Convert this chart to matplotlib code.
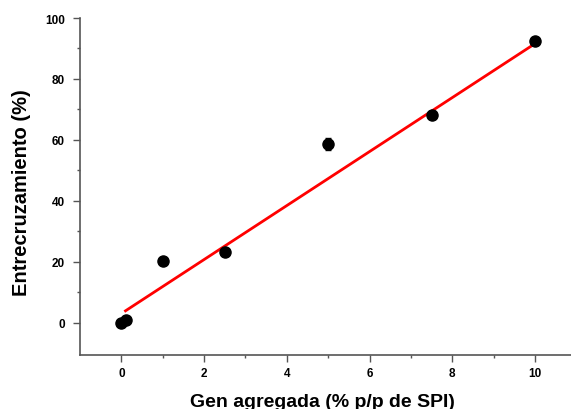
import matplotlib
matplotlib.use("Agg")
import matplotlib.pyplot as plt
import numpy as np

# Data
gen_pct = [0.0, 0.1, 1.0, 2.5, 5.0, 7.5, 10.0]
crosslink = [0.0, 1.0, 20.3, 23.3, 58.8, 68.2, 92.4]
crosslink_err = [0.5, 0.5, 0.8, 0.6, 2.0, 0.8, 0.8]
fit_slope = 8.85
fit_intercept = 3.1
fit_range = [0.1, 10.0]

x_ticks = [0, 2, 4, 6, 8, 10]
y_ticks = [0, 20, 40, 60, 80, 100]

plt.rcParams['font.family'] = ['Liberation Sans', 'DejaVu Sans']

fig = plt.figure(figsize=(5.71, 4.10), dpi=100)
ax = fig.add_axes([80/571, (410-355.7)/410, 1 - 80/571, (355.7-19)/410])

fx = np.linspace(fit_range[0], fit_range[1], 50)
ax.plot(fx, fit_slope * fx + fit_intercept, color='#ff0000', lw=2.0, zorder=2)
ax.errorbar(gen_pct, crosslink, yerr=crosslink_err, fmt='o', color='black',
            ms=8, capsize=2.5, elinewidth=1, capthick=1, zorder=3)

ax.set_xlim(-1, 10.87)
ax.set_ylim(-10.4, 100)
ax.set_xticks(x_ticks)
ax.set_yticks(y_ticks)
ax.set_xticks([1, 3, 5, 7, 9], minor=True)
ax.set_yticks([10, 30, 50, 70, 90], minor=True)
ax.set_xticklabels([str(t) for t in x_ticks], fontweight='bold', fontsize=8.5)
ax.set_yticklabels([str(t) for t in y_ticks], fontweight='bold', fontsize=8.5)

for s in ['top', 'right']:
    ax.spines[s].set_visible(False)
for s in ['left', 'bottom']:
    ax.spines[s].set_color('#555555')
    ax.spines[s].set_linewidth(1.2)
ax.tick_params(which='major', direction='out', length=5, width=1, color='#555555')
ax.tick_params(which='minor', direction='out', length=2.5, width=1, color='#555555')
ax.tick_params(axis='x', which='major', pad=4)
ax.tick_params(axis='y', which='major', pad=6)

ax.set_xlabel('Gen agregada (% p/p de SPI)', fontsize=14, fontweight='bold')
ax.xaxis.set_label_coords(0.493, -0.115)
ax.set_ylabel('Entrecruzamiento (%)', fontsize=14.5, fontweight='bold')
ax.yaxis.set_label_coords(-0.100, 0.483)

fig.savefig('out.png', dpi=100)
